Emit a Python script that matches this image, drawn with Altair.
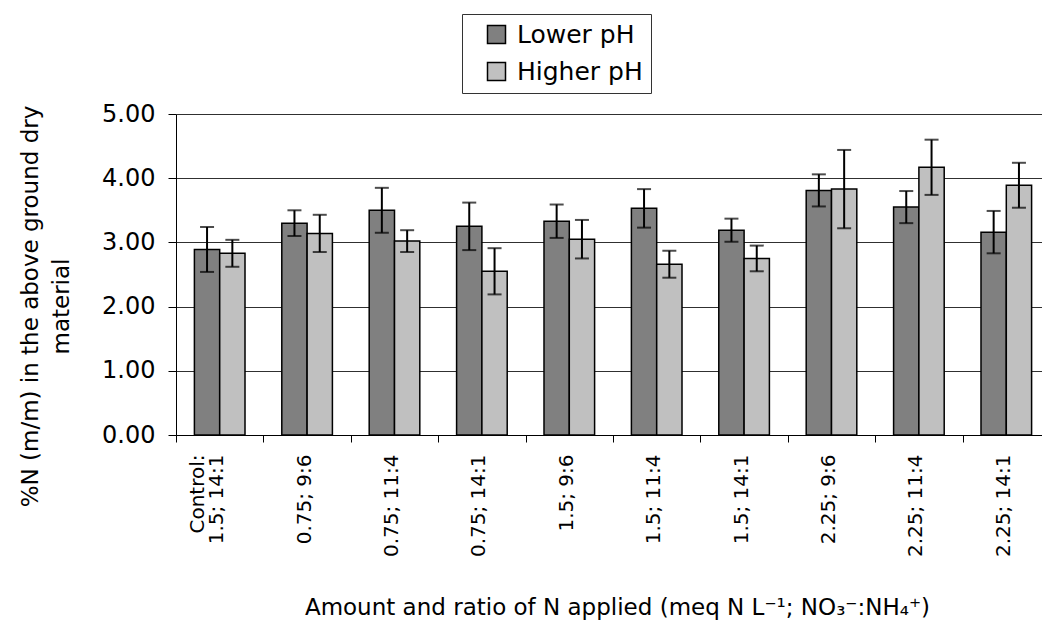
import altair as alt
import pandas as pd

# Treatments: amount of N (meq N/L) and NO3-:NH4+ ratio ("|" marks a line break)
treatments = [
    "Control:|1.5; 14:1", "0.75; 9:6", "0.75; 11:4", "0.75; 14:1", "1.5; 9:6",
    "1.5; 11:4", "1.5; 14:1", "2.25; 9:6", "2.25; 11:4", "2.25; 14:1",
]
series = ["Lower pH", "Higher pH"]

lower_ph = [2.89, 3.30, 3.50, 3.25, 3.33, 3.53, 3.19, 3.81, 3.55, 3.16]
lower_ph_err = [0.35, 0.20, 0.35, 0.37, 0.26, 0.30, 0.18, 0.25, 0.25, 0.33]
higher_ph = [2.83, 3.14, 3.02, 2.55, 3.05, 2.66, 2.75, 3.83, 4.17, 3.89]
higher_ph_err = [0.21, 0.29, 0.17, 0.36, 0.30, 0.21, 0.20, 0.61, 0.43, 0.35]

rows = []
for name, vals, errs in [(series[0], lower_ph, lower_ph_err), (series[1], higher_ph, higher_ph_err)]:
    for t, v, e in zip(treatments, vals, errs):
        rows.append({"treatment": t, "series": name, "value": v, "lo": v - e, "hi": v + e})
df = pd.DataFrame(rows)

FONT = "DejaVu Sans"

# Multi-line labels are stacked leftwards (negative line height), so the last
# line stays on the category centre and earlier lines sit to its left.
label_expr = (
    "indexof(datum.label, '|') >= 0 ? reverse(split(datum.label, '|')) : datum.label"
)

x_enc = alt.X(
    "treatment:N",
    sort=treatments,
    scale=alt.Scale(range=[0, 874], paddingInner=0, paddingOuter=0),
    axis=alt.Axis(
        title="Amount and ratio of N applied (meq N L⁻¹; NO₃⁻:NH₄⁺)",
        titleFont=FONT, titleFontSize=23, titleFontWeight="normal", titleColor="black",
        titleX=441, titleY=179, titleAlign="center", titleBaseline="alphabetic",
        labelExpr=label_expr,
        labelAngle=270, labelAlign="right", labelBaseline="bottom", labelOffset=7,
        labelFont=FONT, labelFontSize=20, labelColor="black", labelLineHeight=-19,
        labelPadding=12, labelOverlap=False, labelBound=False,
        tickBand="extent", tickSize=7, tickColor="black", tickWidth=1,
        domainColor="black", domainWidth=1, grid=False,
    ),
)
xoff_enc = alt.XOffset(
    "series:N", sort=series,
    scale=alt.Scale(paddingInner=0, paddingOuter=0.727),
)
y_scale = alt.Scale(domain=[0, 5], nice=False, zero=True)

bars = alt.Chart(df).mark_bar(stroke="black", strokeWidth=1.5).encode(
    x=x_enc,
    xOffset=xoff_enc,
    y=alt.Y(
        "value:Q",
        scale=y_scale,
        axis=alt.Axis(
            title=["%N (m/m) in the above ground dry", "material"],
            titleFont=FONT, titleFontSize=23, titleFontWeight="normal", titleColor="black",
            titleAngle=270, titleX=-139, titleY=192, titleAlign="center",
            titleBaseline="alphabetic", titleLineHeight=31,
            values=[0, 1, 2, 3, 4, 5], format=".2f",
            labelFont=FONT, labelFontSize=24, labelColor="black", labelPadding=13,
            tickSize=8, tickColor="black", tickWidth=1,
            domainColor="black", domainWidth=1,
            grid=True, gridColor="#303030", gridWidth=1,
        ),
    ),
    color=alt.Color(
        "series:N",
        scale=alt.Scale(domain=series, range=["#808080", "#c0c0c0"]),
        legend=alt.Legend(
            title=None, orient="none", legendX=286, legendY=-100,
            direction="vertical", symbolType="square", symbolSize=324,
            symbolStrokeColor="black", symbolStrokeWidth=1.5, symbolOffset=14,
            labelFont=FONT, labelFontSize=25, labelColor="black", labelOffset=8,
            rowPadding=11, padding=8, strokeColor="#333333", fillColor="white",
        ),
    ),
)

err = alt.Chart(df).mark_rule(color="black", strokeWidth=2).encode(
    x=alt.X("treatment:N", sort=treatments),
    xOffset=alt.XOffset("series:N", sort=series),
    y=alt.Y("lo:Q", scale=y_scale),
    y2="hi:Q",
)
cap_hi = alt.Chart(df).mark_tick(color="black", size=14, thickness=2).encode(
    x=alt.X("treatment:N", sort=treatments),
    xOffset=alt.XOffset("series:N", sort=series),
    y=alt.Y("hi:Q", scale=y_scale),
)
cap_lo = alt.Chart(df).mark_tick(color="black", size=14, thickness=2).encode(
    x=alt.X("treatment:N", sort=treatments),
    xOffset=alt.XOffset("series:N", sort=series),
    y=alt.Y("lo:Q", scale=y_scale),
)

chart = (
    alt.layer(bars, err, cap_hi, cap_lo)
    .properties(
        width=866, height=321,
        autosize=alt.AutoSizeParams(type="none"),
        padding={"left": 176, "top": 114, "right": 0, "bottom": 189},
        background="white",
    )
    .configure_view(stroke=None)
)

chart.save("out.html", embed_options={"renderer": "svg", "actions": False})
